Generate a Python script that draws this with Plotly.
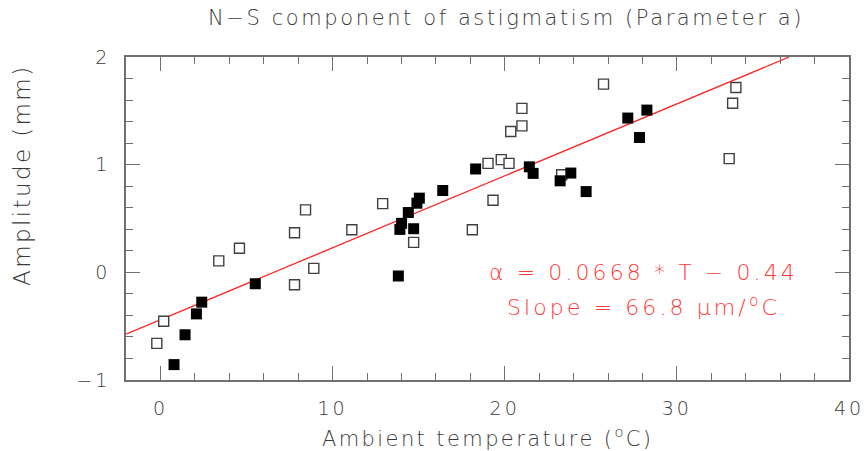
import plotly.graph_objects as go

# Open squares (one data set)
open_T = [-0.21, 0.19, 3.39, 4.59, 7.79, 7.79, 8.43, 8.91, 11.12, 12.91, 14.71,
          18.12, 19.03, 19.32, 19.8, 20.25, 20.35, 21.0, 21.0, 23.31, 25.74,
          33.04, 33.24, 33.43]
open_A = [-0.66, -0.455, 0.106, 0.224, -0.115, 0.367, 0.58, 0.037, 0.395, 0.638, 0.278,
          0.395, 1.012, 0.67, 1.047, 1.012, 1.308, 1.36, 1.523, 0.906, 1.748,
          1.056, 1.57, 1.717]

# Filled squares (other data set)
fill_T = [0.79, 1.43, 2.09, 2.4, 5.51, 13.82, 13.91, 14.01, 14.4, 14.71, 14.9, 15.04,
          16.4, 18.31, 21.43, 21.65, 23.22, 23.84, 24.73, 27.15, 27.83, 28.26]
fill_A = [-0.857, -0.58, -0.386, -0.277, -0.106, -0.034, 0.399, 0.455, 0.556, 0.405, 0.642, 0.689,
          0.76, 0.96, 0.98, 0.919, 0.85, 0.922, 0.75, 1.433, 1.252, 1.507]

# Linear fit
slope = 0.0668
intercept = -0.44
fit_T = [-2.0, (2.0 - intercept) / slope]
fit_A = [slope * t + intercept for t in fit_T]

x_range = [-2, 40]
y_range = [-1, 2]
x_ticks = [0, 10, 20, 30, 40]
y_ticks = [-1, 0, 1, 2]

FONT = "DejaVu Sans"
AX = "#707070"
TXT = "#3a3a3a"
RED = "#ff3a3a"


def spaced(s, px):
    return '<span style="letter-spacing:%.1fpx">%s</span>' % (px, s)


fig = go.Figure()
fig.add_trace(go.Scatter(x=fit_T, y=fit_A, mode="lines",
                         line=dict(color="#ff2020", width=1.3), hoverinfo="skip"))
fig.add_trace(go.Scatter(x=open_T, y=open_A, mode="markers",
                         marker=dict(symbol="square", size=10, color="white",
                                     line=dict(color="#404040", width=1.4))))
fig.add_trace(go.Scatter(x=fill_T, y=fill_A, mode="markers",
                         marker=dict(symbol="square", size=11, color="black",
                                     line=dict(color="black", width=0))))

axis_common = dict(showgrid=False, zeroline=False, showline=True, linecolor=AX, linewidth=1.5,
                   mirror="allticks", ticks="inside", tickcolor=AX, tickwidth=1.2,
                   ticklabelstandoff=10, ticklabeloverflow="allow", automargin=False,
                   tickfont=dict(family=FONT, size=19, color=TXT, weight=300))

fig.update_xaxes(range=x_range, tickvals=x_ticks, ticktext=[spaced(str(v), 3) for v in x_ticks],
                 ticklen=14,
                 minor=dict(dtick=2, ticks="inside", ticklen=7, tickcolor=AX, tickwidth=1.2),
                 **axis_common)
fig.update_yaxes(range=y_range, tickvals=y_ticks,
                 ticktext=[spaced(("\u2212" + str(-v)) if v < 0 else str(v), 3) for v in y_ticks],
                 ticklen=14,
                 minor=dict(dtick=0.2, ticks="inside", ticklen=7, tickcolor=AX, tickwidth=1.2),
                 **axis_common)

fig.update_layout(
    width=864, height=451,
    margin=dict(l=126, r=15, t=57, b=71, autoexpand=False),
    paper_bgcolor="white", plot_bgcolor="white",
    showlegend=False,
    font=dict(family=FONT, color=TXT),
    annotations=[
        dict(text=spaced("N\u2212S component of astigmatism (Parameter a)", 2.6), xref="paper", yref="paper",
             x=(506 - 126) / 723, y=(451 - 18 - 71) / 323, xanchor="center", yanchor="middle",
             showarrow=False, font=dict(family=FONT, size=21, color=TXT, weight=300)),
        dict(text=spaced("Ambient temperature (<sup>o</sup>C)", 2.4), xref="paper", yref="paper",
             x=(487 - 126) / 723, y=(451 - 437 - 71) / 323, xanchor="center", yanchor="middle",
             showarrow=False, font=dict(family=FONT, size=21, color=TXT, weight=300)),
        dict(text=spaced("Amplitude (mm)", 2.4), xref="paper", yref="paper", textangle=-90,
             x=(22 - 126) / 723, y=(451 - 175 - 71) / 323, xanchor="center", yanchor="middle",
             showarrow=False, font=dict(family=FONT, size=23, color=TXT, weight=300)),
        dict(text=spaced("\u03b1 = 0.0668 * T \u2212 0.44", 3.1), xref="x", yref="y",
             x=(643 - 160) / 17.2, y=(272 - 272) / 107, xanchor="center", yanchor="middle",
             showarrow=False, font=dict(family=FONT, size=22, color=RED, weight=300)),
        dict(text=spaced("Slope = 66.8 \u03bcm/<sup>o</sup>C", 3.1), xref="x", yref="y",
             x=(643 - 160) / 17.2, y=(272 - 305) / 107, xanchor="center", yanchor="middle",
             showarrow=False, font=dict(family=FONT, size=22, color=RED, weight=300)),
    ],
)

fig.write_html("out.html")
